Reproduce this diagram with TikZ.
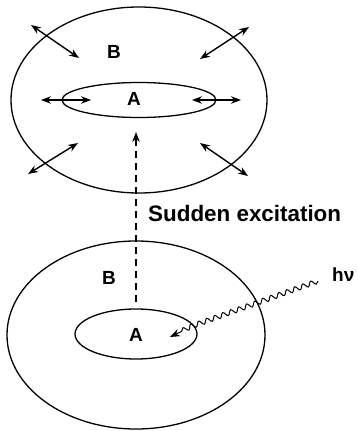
\documentclass[tikz,border=0pt]{standalone}
\usepackage{fontspec}
\setmainfont{Liberation Sans}
\usetikzlibrary{arrows.meta,shapes.geometric,decorations.pathmorphing}
\tikzset{
  region/.style={draw,ellipse,inner sep=0pt,line width=1.3pt},
  lbl/.style={font=\fontsize{19}{22}\selectfont\bfseries,inner sep=0pt},
  biglbl/.style={font=\fontsize{22.4}{26}\selectfont\bfseries,inner sep=0pt},
  dbl/.style={<->,line width=1.4pt}
}

\begin{document}
\begin{tikzpicture}[x=1pt,y=-1pt,>={Stealth[length=10pt,width=7.5pt]}]
  \useasboundingbox (0,0) rectangle (357,431);
  % excited state
  \node[region,minimum width=256pt,minimum height=186pt] (outerTop) at (139,100) {};
  \node[region,minimum width=154pt,minimum height=35pt] (innerTop) at (139,100) {};
  \node[lbl] (bTop) at (114,52) {B};
  \node[lbl] (aTop) at (134,99) {A};
  \coordinate (l1) at (41,100);   \coordinate (l2) at (91,100);
  \coordinate (r1) at (192,100);  \coordinate (r2) at (241,100);
  \coordinate (tl1) at (31,25);   \coordinate (tl2) at (79,58);
  \coordinate (tr1) at (249,27);  \coordinate (tr2) at (200,59);
  \coordinate (bl1) at (28,174);  \coordinate (bl2) at (78,143);
  \coordinate (br1) at (200,143); \coordinate (br2) at (248,176);
  \draw[dbl] (l1) -- (l2);
  \draw[dbl] (r1) -- (r2);
  \draw[dbl] (tl1) -- (tl2);
  \draw[dbl] (tr1) -- (tr2);
  \draw[dbl] (bl1) -- (bl2);
  \draw[dbl] (br1) -- (br2);
  % ground state
  \node[region,minimum width=258pt,minimum height=188pt] (outerBot) at (136,335) {};
  \node[region,minimum width=122pt,minimum height=50pt] (innerBot) at (136,334) {};
  \node[lbl] (bBot) at (109,278) {B};
  \node[lbl] (aBot) at (136,335) {A};
  % sudden excitation
  \coordinate (exFrom) at (136,302);
  \coordinate (exTo) at (136,132);
  \draw[->,line width=1.4pt,dash pattern=on 7pt off 5pt] (exFrom) -- (exTo);
  \node[biglbl,anchor=west] (exc) at (148,213) {Sudden excitation};
  % photon
  \node[lbl,anchor=west] (hv) at (332,275) {hν};
  \coordinate (wStart) at (318,281);
  \coordinate (wBend) at (195,325);
  \coordinate (wTip) at (170,337);
  \draw[->,line width=1pt,decorate,
        decoration={snake,amplitude=2.4pt,segment length=8.5pt,post length=9pt}]
    (wStart) -- (wBend) -- (wTip);
\end{tikzpicture}
\end{document}
